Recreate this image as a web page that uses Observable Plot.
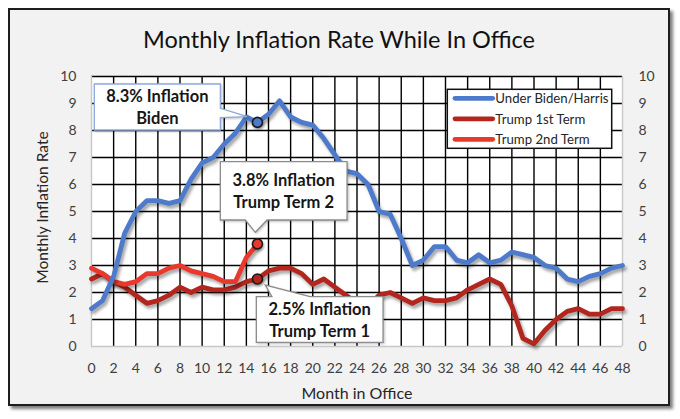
<!DOCTYPE html>
<html><head><meta charset="utf-8">
<script src="https://cdn.jsdelivr.net/npm/d3@7"></script>
<script src="https://cdn.jsdelivr.net/npm/@observablehq/plot@0.6"></script>
<style>
body{margin:0;background:#fff;font-family:Lato,"Open Sans",sans-serif;}
#frame{position:absolute;left:8px;top:8px;width:658px;height:394px;border:2px solid #1e1e1e;background:#f2f2f2;box-shadow:3px 3px 3px rgba(0,0,0,0.5);}
#title{height:54px;box-sizing:border-box;padding-top:4px;line-height:50px;text-align:center;font-size:23.5px;color:#111;}
#chart svg{display:block;}
</style></head><body>
<div id="frame"><div id="title">Monthly Inflation Rate While In Office</div><div id="chart"></div></div>
<script>
// ---- data ----
const xTicks = [0,2,4,6,8,10,12,14,16,18,20,22,24,26,28,30,32,34,36,38,40,42,44,46,48];
const yTicks = [0,1,2,3,4,5,6,7,8,9,10];
const seriesNames = ["Under Biden/Harris","Trump 1st Term","Trump 2nd Term"];
const bidenHarris = [1.4,1.7,2.6,4.2,5.0,5.4,5.4,5.3,5.4,6.2,6.8,7.0,7.5,7.9,8.5,8.3,8.6,9.1,8.5,8.3,8.2,7.7,7.1,6.5,6.4,6.0,5.0,4.9,4.0,3.0,3.2,3.7,3.7,3.2,3.1,3.4,3.1,3.2,3.5,3.4,3.3,3.0,2.9,2.5,2.4,2.6,2.7,2.9,3.0];
const trump1 = [2.5,2.7,2.4,2.2,1.9,1.6,1.7,1.9,2.2,2.0,2.2,2.1,2.1,2.2,2.4,2.5,2.8,2.9,2.9,2.7,2.3,2.5,2.2,1.9,1.6,1.5,1.9,2.0,1.8,1.6,1.8,1.7,1.7,1.8,2.1,2.3,2.5,2.3,1.5,0.3,0.1,0.6,1.0,1.3,1.4,1.2,1.2,1.4,1.4];
const trump2 = [2.9,2.7,2.4,2.3,2.4,2.7,2.7,2.9,3.0,2.8,2.7,2.6,2.4,2.4,3.3,3.8];
const annMonths = [15,15,15];
const annValues = [8.3,3.8,2.5];
const annLines = [["8.3% Inflation","Biden"],["3.8% Inflation","Trump Term 2"],["2.5% Inflation","Trump Term 1"]];

// ---- styles ----
const colors = ["#4d7acb","#b3261e","#e8392c"];
const toRows = (vals, s) => vals.map((v, i) => ({month: i, rate: v, series: s}));
const rows = [toRows(bidenHarris, seriesNames[0]), toRows(trump1, seriesNames[1]), toRows(trump2, seriesNames[2])];
const ann = annMonths.map((m, i) => ({month: m, rate: annValues[i], color: colors[[0,2,1][i]]}));

const plot = Plot.plot({
  width: 658, height: 340,
  marginTop: 12, marginBottom: 58, marginLeft: 81, marginRight: 46,
  style: {background: "transparent", fontFamily: "Lato, sans-serif", fontSize: "14px", color: "#404040"},
  x: {domain: [0, 48]},
  y: {domain: [0, 10]},
  marks: [
    Plot.frame({fill: "white", stroke: "none"}),
    Plot.ruleX(xTicks.filter(d => d > 0 && d < 48), {stroke: "#000", strokeWidth: 1.4}),
    Plot.ruleY(yTicks.filter(d => d > 0), {stroke: "#000", strokeWidth: 1.4}),
    Plot.ruleX([0, 48], {stroke: "#c8c8c8", strokeWidth: 1.4}),
    Plot.ruleY([0], {stroke: "#c8c8c8", strokeWidth: 1.4}),
    Plot.axisX({ticks: xTicks, tickSize: 0, tickPadding: 17, label: null, fill: "#404040"}),
    Plot.axisY({anchor: "left", ticks: yTicks, tickSize: 0, tickPadding: 15, label: null, fill: "#404040"}),
    Plot.axisY({anchor: "right", ticks: yTicks, tickSize: 0, tickPadding: 16, label: null, fill: "#404040"}),
    Plot.text(["Month in Office"], {frameAnchor: "bottom", dy: 47, lineAnchor: "middle", textAnchor: "middle", fontSize: 16, fill: "#262626"}),
    Plot.text(["Monthly Inflation Rate"], {frameAnchor: "left", dx: -48, dy: -4, rotate: -90, lineAnchor: "middle", textAnchor: "middle", fontSize: 15.5, fill: "#262626"}),
    Plot.line(rows[1], {x: "month", y: "rate", stroke: colors[1], strokeWidth: 4.8}),
    Plot.line(rows[2], {x: "month", y: "rate", stroke: colors[2], strokeWidth: 4.8}),
    Plot.line(rows[0], {x: "month", y: "rate", stroke: colors[0], strokeWidth: 4.8}),
    Plot.dot(ann, {x: "month", y: "rate", r: 5, fill: "color", stroke: "#1a1a1a", strokeWidth: 1.6})
  ]
});
document.getElementById("chart").appendChild(plot);

const svg = d3.select(plot);
svg.selectAll('g[aria-label="line"]').style("filter", "drop-shadow(2px 3px 1.5px rgba(0,0,0,0.35))");
svg.selectAll('g[aria-label="dot"]').style("filter", "drop-shadow(1px 2px 1px rgba(0,0,0,0.3))");

const xs = plot.scale("x"), ys = plot.scale("y");

// ---- callouts (box offsets relative to the marked point) ----
const callouts = [
  {box: [-162.6, -37.9, 126, 46], border: "#8faadc", ptr: {edge: "right", a: -13.6, b: -4.2, tip: [-9.9, -5.2]}},
  {box: [-36.6, -81.7, 126.7, 58.3], border: "#8c8c8c", ptr: {edge: "bottom", a: -11.6, b: 10.1, tip: [-1.6, -11.1]}},
  {box: [-0.6, 18.2, 126.7, 45.6], border: "#8c8c8c", ptr: {edge: "top", a: 15, b: 53, tip: [8.4, 6.5]}}
];
const g = svg.append("g").attr("font-family", "Lato, sans-serif");
callouts.forEach((c, i) => {
  const ax = xs.apply(annMonths[i]), ay = ys.apply(annValues[i]);
  const l = ax + c.box[0], t = ay + c.box[1], r = l + c.box[2], b = t + c.box[3];
  const tx = ax + c.ptr.tip[0], ty = ay + c.ptr.tip[1];
  let d;
  if (c.ptr.edge === "right") {
    d = `M${l},${t}L${r},${t}L${r},${ay + c.ptr.a}L${tx},${ty}L${r},${ay + c.ptr.b}L${r},${b}L${l},${b}Z`;
  } else if (c.ptr.edge === "bottom") {
    d = `M${l},${t}L${r},${t}L${r},${b}L${ax + c.ptr.b},${b}L${tx},${ty}L${ax + c.ptr.a},${b}L${l},${b}Z`;
  } else {
    d = `M${l},${t}L${ax + c.ptr.a},${t}L${tx},${ty}L${ax + c.ptr.b},${t}L${r},${t}L${r},${b}L${l},${b}Z`;
  }
  g.append("path").attr("d", d).attr("fill", "#fff").attr("stroke", c.border).attr("stroke-width", 1.3)
    .style("filter", "drop-shadow(1.5px 1.5px 1px rgba(0,0,0,0.25))");
  const cx = (l + r) / 2, cy = (t + b) / 2;
  annLines[i].forEach((txt, k) => {
    g.append("text").attr("x", cx).attr("y", cy + (k === 0 ? -11 : 11)).attr("text-anchor", "middle")
      .attr("dominant-baseline", "central").attr("font-weight", "bold").attr("font-size", 16.5).attr("fill", "#161616").text(txt);
  });
});

// ---- legend ----
const [fx0, fx1] = xs.range, [fy0, fy1] = ys.range;
const lgx = fx1 - 174.7, lgy = fy1 + 13.3;
const lg = svg.append("g").attr("font-family", "Lato, sans-serif");
lg.append("rect").attr("x", lgx).attr("y", lgy).attr("width", 164.4).attr("height", 59)
  .attr("fill", "#fff").attr("stroke", "#111").attr("stroke-width", 1.5);
seriesNames.forEach((s, i) => {
  const yy = lgy + 9 + i * 20.5;
  lg.append("line").attr("x1", lgx + 7.7).attr("x2", lgx + 45.4).attr("y1", yy).attr("y2", yy)
    .attr("stroke", colors[i]).attr("stroke-width", 4.8).attr("stroke-linecap", "round");
  lg.append("text").attr("x", lgx + 48).attr("y", yy).attr("text-anchor", "start").attr("dominant-baseline", "central")
    .attr("font-size", 13.2).attr("fill", "#262626").text(s);
});
</script>
</body></html>
